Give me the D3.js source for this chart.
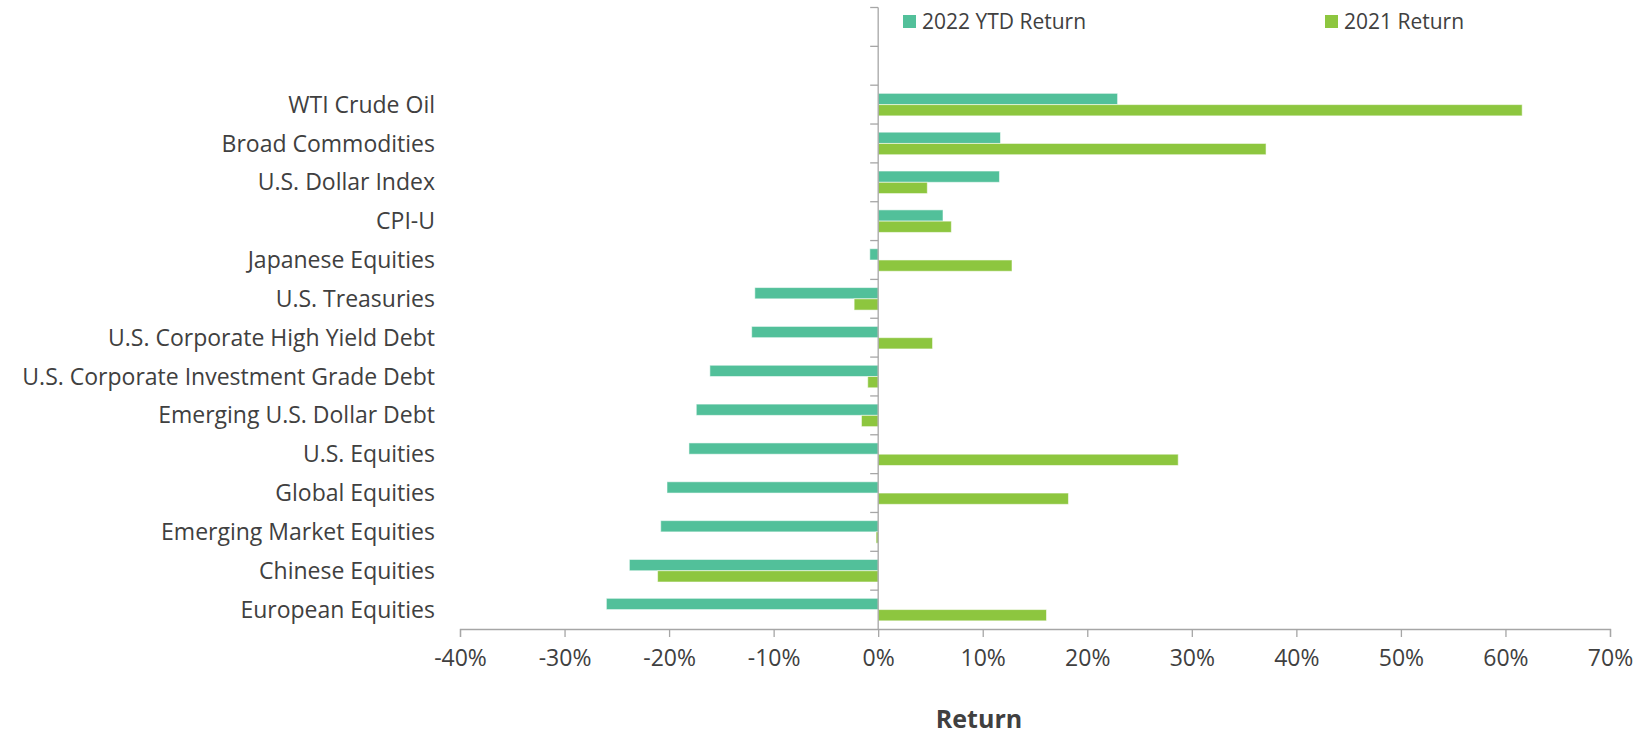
<!DOCTYPE html>
<html>
<head>
<meta charset="utf-8">
<script src="https://cdn.jsdelivr.net/npm/d3@7"></script>
<style>
  body { margin: 0; background: #fff; }
  text { font-family: "Open Sans", sans-serif; fill: #404040; }
</style>
</head>
<body>
<svg id="chart" width="1651" height="736"></svg>
<script>
var categories = ["WTI Crude Oil", "Broad Commodities", "U.S. Dollar Index", "CPI-U",
  "Japanese Equities", "U.S. Treasuries", "U.S. Corporate High Yield Debt",
  "U.S. Corporate Investment Grade Debt", "Emerging U.S. Dollar Debt", "U.S. Equities",
  "Global Equities", "Emerging Market Equities", "Chinese Equities", "European Equities"];
var ytd2022 = [22.9, 11.7, 11.6, 6.2, -0.8, -11.8, -12.1, -16.1, -17.4, -18.1, -20.2, -20.8, -23.8, -26.0];
var ret2021 = [61.6, 37.1, 4.7, 7.0, 12.8, -2.3, 5.2, -1.0, -1.6, 28.7, 18.2, -0.2, -21.1, 16.1];
var xTicks = [-40, -30, -20, -10, 0, 10, 20, 30, 40, 50, 60, 70];
var seriesNames = ["2022 YTD Return", "2021 Return"];
var colors = ["#52c09a", "#8dc63f"];

var svg = d3.select("#chart");

var x = d3.scaleLinear().domain([-40, 70]).range([460, 1610]);
// two empty slots on top, where the legend sits
var slots = ["_a", "_b"].concat(categories);
var y = d3.scaleBand().domain(slots).range([7.5, 629]).padding(0);
var barH = y.bandwidth() * 0.29;

// bars
var series = [ytd2022, ret2021];
series.forEach(function (vals, s) {
  svg.append("g").selectAll("rect")
    .data(vals)
    .enter().append("rect")
    .attr("x", function (d) { return x(Math.min(0, d)); })
    .attr("width", function (d) { return Math.abs(x(d) - x(0)); })
    .attr("y", function (d, i) {
      var c = y(categories[i]) + y.bandwidth() / 2;
      return s === 0 ? c - barH : c;
    })
    .attr("height", barH)
    .attr("fill", colors[s])
    .attr("stroke", "rgba(255,255,255,0.55)")
    .attr("stroke-width", 1);
});

// x axis
var xAxis = d3.axisBottom(x)
  .tickValues(xTicks)
  .tickFormat(function (d) { return d + "%"; })
  .tickSize(8)
  .tickPadding(13);
var gx = svg.append("g")
  .attr("transform", "translate(0,629)")
  .call(xAxis);
gx.select(".domain").attr("stroke", "#a6a6a6").attr("stroke-width", 1.3);
gx.selectAll(".tick line").attr("stroke", "#a6a6a6").attr("stroke-width", 1.3);
gx.selectAll(".tick text")
  .style("font-family", "'Open Sans', sans-serif")
  .style("font-size", "23px")
  .attr("fill", "#404040");

// vertical axis at zero, ticks at band boundaries
var bounds = slots.map(function (d) { return y(d); });
svg.append("line")
  .attr("x1", x(0)).attr("x2", x(0))
  .attr("y1", y.range()[0]).attr("y2", 629)
  .attr("stroke", "#a6a6a6").attr("stroke-width", 1.3);
svg.append("g").selectAll("line")
  .data(bounds)
  .enter().append("line")
  .attr("x1", x(0) - 8).attr("x2", x(0))
  .attr("y1", function (d) { return d; })
  .attr("y2", function (d) { return d; })
  .attr("stroke", "#a6a6a6").attr("stroke-width", 1.3);

// category labels
svg.append("g").selectAll("text")
  .data(categories)
  .enter().append("text")
  .attr("x", 435)
  .attr("y", function (d) { return y(d) + y.bandwidth() / 2; })
  .attr("dy", "0.35em")
  .attr("text-anchor", "end")
  .style("font-size", "23px")
  .text(function (d) { return d; });

// axis title
svg.append("text")
  .attr("x", 979)
  .attr("y", 728)
  .attr("text-anchor", "middle")
  .style("font-size", "25px")
  .style("font-weight", "bold")
  .text("Return");

// legend
var legendX = [903, 1325];
seriesNames.forEach(function (name, i) {
  var g = svg.append("g").attr("transform", "translate(" + legendX[i] + ",15)");
  g.append("rect").attr("width", 13).attr("height", 13).attr("fill", colors[i]);
  g.append("text").attr("x", 19).attr("y", 7).attr("dy", "0.35em")
    .style("font-size", "21px").text(name);
});
</script>
</body>
</html>
